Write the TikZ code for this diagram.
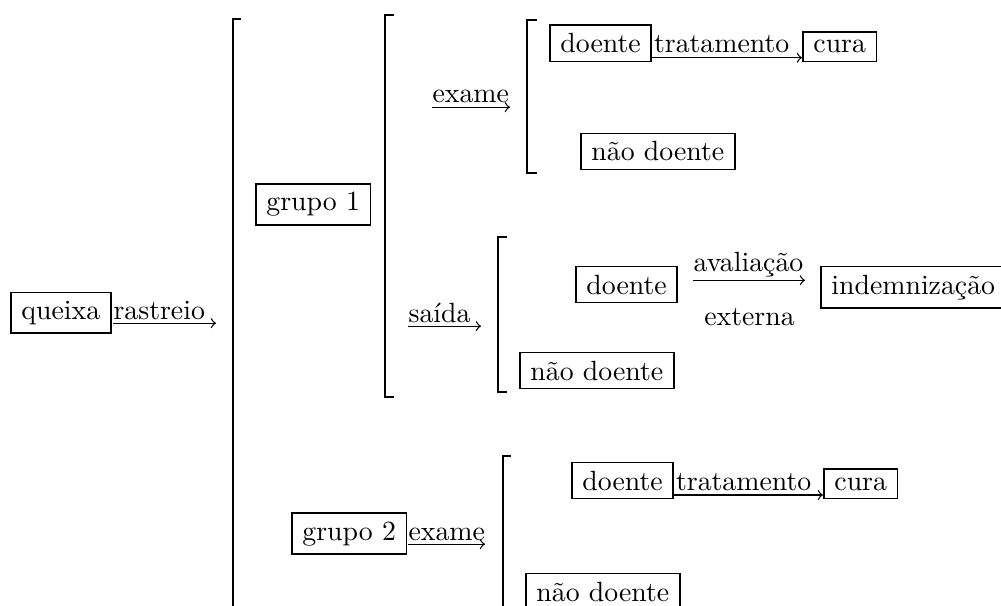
\documentclass[tikz,border=0pt]{standalone}
\usepackage{fontspec}
\usetikzlibrary{calc}
\begin{document}
\begin{tikzpicture}[x=0.3597pt,y=-0.3597pt,
  box/.style={draw,line width=0.6pt,inner xsep=3.8pt,inner ysep=3pt,anchor=base west},
  lab/.style={inner sep=0pt,anchor=base west},
  arr/.style={->,line width=0.45pt},
  brk/.style={line width=0.75pt}]
\useasboundingbox (0,0) rectangle (1001,606);

% brackets
\draw[brk] (241,19) -- (233,19) -- (233,700);
\draw[brk] (394,15) -- (385,15) -- (385,397) -- (394,397);
\draw[brk] (537,20) -- (527,20) -- (527,173) -- (537,173);
\draw[brk] (507,237) -- (498,237) -- (498,392) -- (507,392);
\draw[brk] (511,456) -- (503,456) -- (503,700);

% root
\node[box] (queixa) at (10,319) {queixa};
\node[lab] (rastreio) at ([xshift=0.5pt]queixa.base east) {rastreio};
\coordinate (rtip) at (216,319);
\draw[arr] ([yshift=-1.5pt]rastreio.base west) -- ([yshift=-1.5pt]rtip);

% grupo 1
\node[box] (g1) at (255,211) {grupo 1};
\node[lab] (exame1) at (432,103) {exame};
\coordinate (e1tip) at (510,103);
\draw[arr] ([yshift=-1.5pt]exame1.base west) -- ([yshift=-1.5pt]e1tip);

\node[box] (d1) at (549,52.7) {doente};
\node[box] (c1) at (802,52.7) {cura};
\node[lab] (t1) at ([xshift=0.5pt]d1.base east) {tratamento};
\draw[arr] ([yshift=-1.8pt]d1.base east) -- ([yshift=-1.8pt]c1.base west);
\node[box] (nd1) at (580,161) {não doente};

\node[lab] (saida) at (408,322) {saída};
\coordinate (stip) at (481,322);
\draw[arr] ([yshift=-1.5pt]saida.base west) -- ([yshift=-1.5pt]stip);

\node[box] (d2) at (575,294) {doente};
\node[box] (ind) at (820,294) {indemnização};
\node[inner sep=0pt,anchor=base] (aval) at (748.5,271) {avaliação};
\node[inner sep=0pt,anchor=base] (ext) at (749.5,325) {externa};
\draw[arr] ($(d2.base east)+(15,-13.7)$) -- ($(ind.base west)+(-15,-13.7)$);
\node[box] (nd2) at (519,380) {não doente};

% grupo 2
\node[box] (g2) at (291,540) {grupo 2};
\node[lab] (exame2) at (408,540) {exame};
\coordinate (e2tip) at (485,540);
\draw[arr] ([yshift=-1.5pt]exame2.base west) -- ([yshift=-1.5pt]e2tip);

\node[box] (d3) at (571,490) {doente};
\node[box] (c3) at (823,490) {cura};
\node[lab] (t3) at ([xshift=0.5pt]d3.base east) {tratamento};
\draw[arr] ([yshift=-1.8pt]d3.base east) -- ([yshift=-1.8pt]c3.base west);
\node[box] (nd3) at (525,601) {não doente};
\end{tikzpicture}
\end{document}
